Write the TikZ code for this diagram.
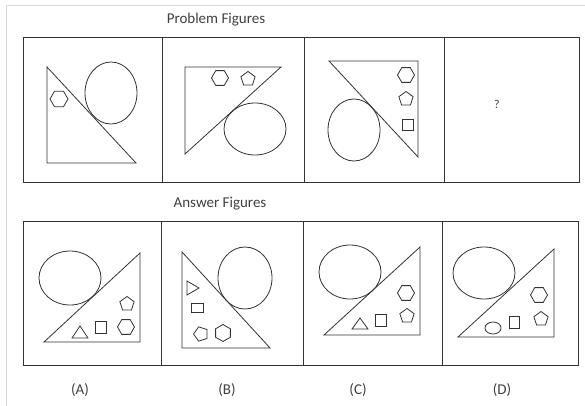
\documentclass[tikz,border=0pt]{standalone}
\usepackage{fontspec}
\setmainfont{Carlito}
\usetikzlibrary{shapes.geometric}
\definecolor{ink}{HTML}{333333}
\definecolor{txt}{HTML}{404040}
\definecolor{frame}{HTML}{D8D8D8}
\tikzset{
  fig/.style={draw=ink, line width=0.9pt},
  shp/.style={draw=ink, line width=0.8pt},
  hexa/.style={shp, regular polygon, regular polygon sides=6, minimum size=17pt, inner sep=0pt},
  penta/.style={shp, regular polygon, regular polygon sides=5, minimum size=15pt, inner sep=0pt},
  sq/.style={shp, rectangle, minimum width=11pt, minimum height=11pt, inner sep=0pt},
  lbl/.style={text=txt, font=\fontsize{15}{17}\selectfont, inner sep=0pt}
}
\begin{document}
\begin{tikzpicture}[x=1pt,y=-1pt]
\useasboundingbox (0,0) rectangle (585,406);
\fill[white] (0,0) rectangle (585,406);
% light outer frame
\draw[frame, line width=0.8pt] (6,406) -- (6,5) -- (585,5);

% titles
\node[lbl] (ptitle) at (216,20) {Problem Figures};
\node[lbl] (atitle) at (220,204) {Answer Figures};

% problem boxes
\draw[fig] (23,37) rectangle (579,182);
\draw[fig] (162,37) -- (162,182);
\draw[fig] (304,37) -- (304,182);
\draw[fig] (444,37) -- (444,182);

% answer boxes
\draw[fig] (23,221) rectangle (578,365);
\draw[fig] (161,221) -- (161,365);
\draw[fig] (303,221) -- (303,365);
\draw[fig] (442,221) -- (442,365);

% ---- Problem figure 1
\draw[shp] (47,67) -- (47,163) -- (136,163) -- cycle;
\draw[shp] (111,93) ellipse (26 and 31);
\node[hexa, minimum size=18pt] (p1hex) at (59,99) {};

% ---- Problem figure 2
\draw[shp] (185,67) -- (281,67) -- (185,154) -- cycle;
\draw[shp] (255,129) ellipse (31 and 26);
\node[hexa] (p2hex) at (220,78) {};
\node[penta] (p2pen) at (248,79) {};

% ---- Problem figure 3
\draw[shp] (329,61) -- (418,61) -- (418,157) -- cycle;
\draw[shp] (354,130) ellipse (26 and 31);
\node[hexa] (p3hex) at (406,75) {};
\node[penta] (p3pen) at (406,99) {};
\node[sq] (p3sq) at (408,125) {};

% ---- question mark
\node[lbl, font=\fontsize{12}{14}\selectfont] (q) at (497,104) {?};

% ---- Answer A
\draw[shp] (44,342) -- (140,253) -- (140,342) -- cycle;
\draw[shp] (70,278) ellipse (31 and 27);
\draw[shp] (72,338) -- (88,338) -- (80,326) -- cycle;
\node[sq, minimum height=12pt] (asq) at (101,327) {};
\node[hexa] (ahex) at (126,327) {};
\node[penta] (apen) at (127,304) {};

% ---- Answer B
\draw[shp] (182,252) -- (182,348) -- (270,348) -- cycle;
\draw[shp] (245,278) ellipse (27 and 31);
\draw[shp] (187,281) -- (199,288) -- (187,295) -- cycle;
\node[sq, minimum width=12pt, minimum height=9pt] (bsq) at (197,308) {};
\node[penta, rotate=90] (bpen) at (201,334) {};
\node[hexa, rotate=90] (bhex) at (223,333) {};

% ---- Answer C
\draw[shp] (324,335) -- (420,247) -- (420,335) -- cycle;
\draw[shp] (350,272) ellipse (31 and 27);
\draw[shp] (352,329) -- (368,329) -- (360,318) -- cycle;
\node[sq, minimum height=12pt] (csq) at (381,320) {};
\node[hexa] (chex) at (406,293) {};
\node[penta] (cpen) at (407,316) {};

% ---- Answer D
\draw[shp] (458,337) -- (554,249) -- (554,337) -- cycle;
\draw[shp] (484,273) ellipse (31 and 26);
\node[shp, ellipse, minimum width=16pt, minimum height=12pt, inner sep=0pt] (dell) at (493,328) {};
\node[sq, minimum width=10pt, minimum height=12pt] (dsq) at (514,322) {};
\node[hexa] (dhex) at (539,295) {};
\node[penta] (dpen) at (541,319) {};

% labels
\node[lbl] (la) at (80,390) {(A)};
\node[lbl] (lb) at (227,390) {(B)};
\node[lbl] (lc) at (358,390) {(C)};
\node[lbl] (ld) at (502,390) {(D)};
\end{tikzpicture}
\end{document}
